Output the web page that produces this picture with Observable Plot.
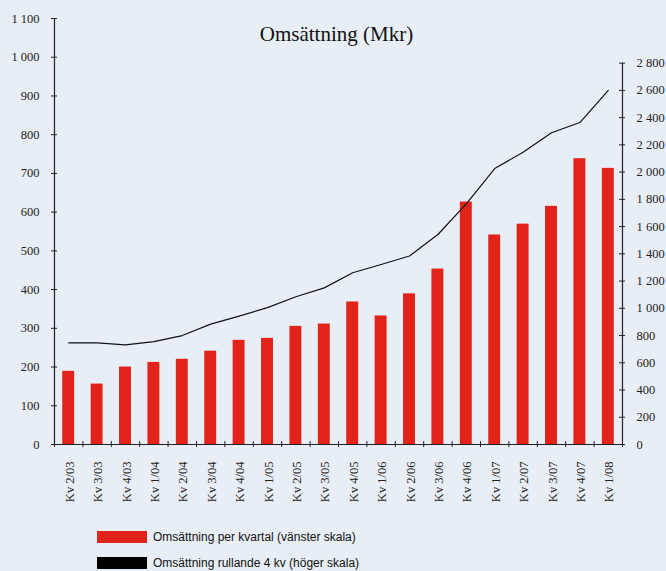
<!DOCTYPE html>
<html>
<head>
<meta charset="utf-8">
<script src="https://cdn.jsdelivr.net/npm/d3@7"></script>
<script src="https://cdn.jsdelivr.net/npm/@observablehq/plot@0.6"></script>
<style>
  html, body { margin: 0; padding: 0; background: #e8eef5; }
  #wrap { position: relative; width: 666px; height: 571px; overflow: hidden; background: #e8eef5; }
  .leg { position: absolute; left: 97px; font-family: "Liberation Sans", Arial, sans-serif; font-size: 12px; line-height: 14px; color: #111; display: flex; align-items: center; white-space: nowrap; }
  .sw { width: 50px; height: 12px; margin-right: 6px; }
</style>
</head>
<body>
<div id="wrap"></div>
<script>
// Data
const quarters = ["Kv 2/03","Kv 3/03","Kv 4/03","Kv 1/04","Kv 2/04","Kv 3/04","Kv 4/04","Kv 1/05","Kv 2/05","Kv 3/05","Kv 4/05","Kv 1/06","Kv 2/06","Kv 3/06","Kv 4/06","Kv 1/07","Kv 2/07","Kv 3/07","Kv 4/07","Kv 1/08"];
const perQuarter = [189,156,200,212,220,241,269,274,305,311,368,332,389,453,626,541,569,615,738,713];
const rolling4 = [746,746,731,756,800,884,943,1005,1085,1150,1261,1322,1384,1542,1767,2026,2146,2289,2364,2600];
const leftTicks = [0,100,200,300,400,500,600,700,800,900,1000,1100];
const rightTicks = [0,200,400,600,800,1000,1200,1400,1600,1800,2000,2200,2400,2600,2800];
const title = "Omsättning (Mkr)";
const legendLabels = ["Omsättning per kvartal (vänster skala)", "Omsättning rullande 4 kv (höger skala)"];

const leftMax = 1100;
const rightMax = 3128; // right scale value at top of frame
const k = rightMax / leftMax;
const red = "#e2231a";
const ink = "#222";
const serif = "'Liberation Serif', 'DejaVu Serif', serif";

const data = quarters.map((q, i) => ({q, i, value: perQuarter[i], roll: rolling4[i]}));
const xTicks = d3.range(0, quarters.length + 1);
const fmt = d3.format(",");
const sp = v => fmt(v).replace(/,/g, " ");

const chart = Plot.plot({
  width: 666,
  height: 520,
  marginTop: 18,
  marginBottom: 76,
  marginLeft: 54,
  marginRight: 44,
  style: {background: "transparent", color: ink, overflow: "visible"},
  x: {type: "linear", domain: [0, quarters.length], axis: null},
  y: {domain: [0, leftMax], axis: null},
  marks: [
    Plot.rectY(data, {x1: d => d.i + 0.29, x2: d => d.i + 0.71, y: "value", fill: red}),
    Plot.line(data, {x: d => d.i + 0.5, y: d => d.roll / k, stroke: "#111", strokeWidth: 1.2}),
    Plot.ruleX([0], {y1: 0, y2: leftMax, stroke: ink, strokeWidth: 1.2}),
    Plot.ruleX([quarters.length], {y1: 0, y2: 2800 / k, stroke: ink, strokeWidth: 1.2}),
    Plot.ruleY([0], {x1: 0, x2: quarters.length, insetLeft: -3, insetRight: -3, stroke: ink, strokeWidth: 1.2}),
    Plot.ruleY(leftTicks, {y: d => d, x1: 0, x2: 0, insetLeft: -3, insetRight: -3, stroke: ink, strokeWidth: 1}),
    Plot.ruleY(rightTicks, {y: d => d / k, x1: quarters.length, x2: quarters.length, insetLeft: -3, insetRight: -3, stroke: ink, strokeWidth: 1}),
    Plot.ruleX(xTicks, {x: d => d, y1: 0, y2: 0, insetTop: -3, insetBottom: -3, stroke: ink, strokeWidth: 1}),
    Plot.text(leftTicks, {x: 0, y: d => d, text: d => sp(d), textAnchor: "end", dx: -15, fontSize: 12.5, fontFamily: serif, fill: ink}),
    Plot.text(rightTicks, {x: quarters.length, y: d => d / k, text: d => sp(d), textAnchor: "start", dx: 14, fontSize: 12.5, fontFamily: serif, fill: ink}),
    Plot.text(data, {x: d => d.i + 0.5, y: 0, text: "q", rotate: -90, textAnchor: "end", dy: 17, dx: 1, fontSize: 12.5, fontFamily: serif, fill: ink}),
    Plot.text([title], {frameAnchor: "top", text: d => d, dy: 8, dx: -2, fontSize: 21, fontFamily: serif, fill: "#111"})
  ]
});

const wrap = document.getElementById("wrap");
wrap.appendChild(chart);

const legColors = [red, "#000"];
const legTops = [530, 556];
legendLabels.forEach((lab, j) => {
  const div = document.createElement("div");
  div.className = "leg";
  div.style.top = legTops[j] + "px";
  const sw = document.createElement("div");
  sw.className = "sw";
  sw.style.background = legColors[j];
  const t = document.createElement("span");
  t.textContent = lab;
  div.appendChild(sw);
  div.appendChild(t);
  wrap.appendChild(div);
});
</script>
</body>
</html>
